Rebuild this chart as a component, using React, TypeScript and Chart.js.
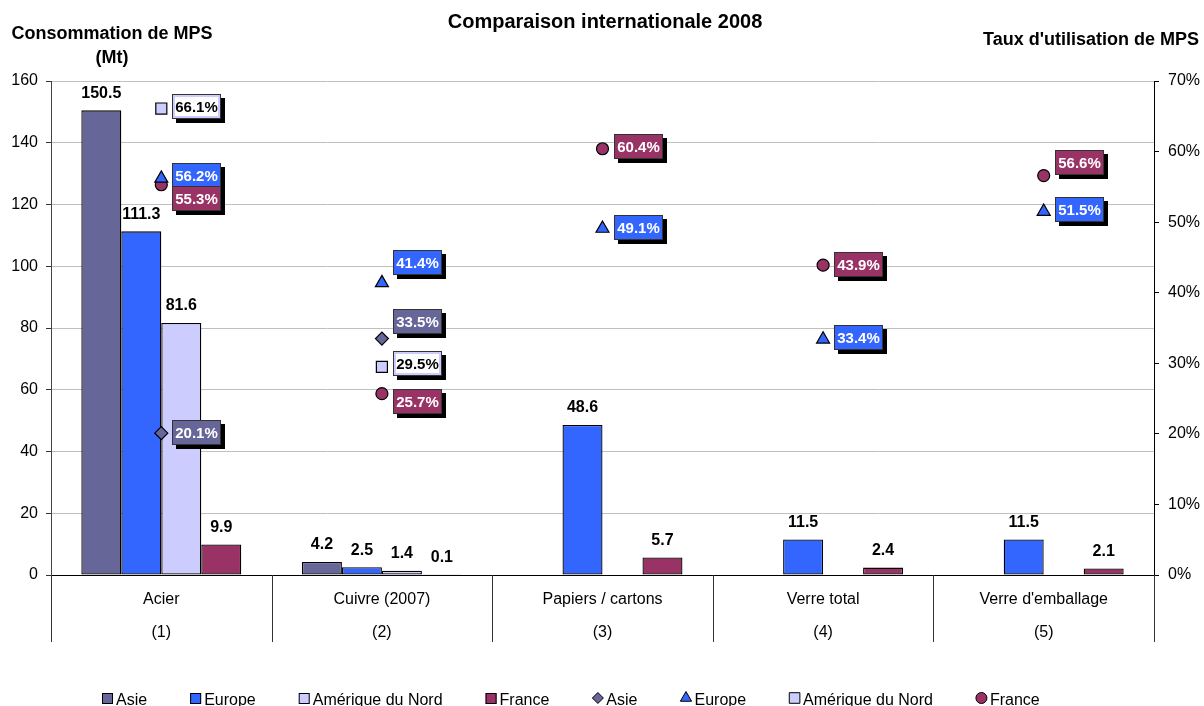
import React, { useEffect, useRef } from "react";
import { Chart, registerables } from "chart.js";

Chart.register(...registerables);

// ---------- data ----------
const categories = ["Acier", "Cuivre (2007)", "Papiers / cartons", "Verre total", "Verre d'emballage"];
const categoryNotes = ["(1)", "(2)", "(3)", "(4)", "(5)"];
const seriesNames = ["Asie", "Europe", "Amérique du Nord", "France"];

const consoAsie = [150.5, 4.2, null, null, null];
const consoEurope = [111.3, 2.5, 48.6, 11.5, 11.5];
const consoAmNord = [81.6, 1.4, null, null, null];
const consoFrance = [9.9, 0.1, 5.7, 2.4, 2.1];

const tauxAsie = [20.1, 33.5, null, null, null];
const tauxEurope = [56.2, 41.4, 49.1, 33.4, 51.5];
const tauxAmNord = [66.1, 29.5, null, null, null];
const tauxFrance = [55.3, 25.7, 60.4, 43.9, 56.6];

const leftMax = 160;
const leftStep = 20;
const rightMax = 70;
const rightStep = 10;

// ---------- style ----------
const FONT = "'Liberation Sans', Arial, sans-serif";
const colors = ["#666699", "#3366FF", "#CCCCFF", "#993366"];
const pointStyles = ["rectRot", "triangle", "rect", "circle"];
const pointRadii = [6.5, 7.5, 7.8, 6];
// label box vertical nudges (px), to mimic manual label placement
const labelShiftAsie = [-1, -17, 0, 0, 0];
const labelShiftEurope = [-3, -20, -1, -2, -2];
const labelShiftAmNord = [-2, -3, 0, 0, 0];
const labelShiftFrance = [14, 8, -2, -1, -13];
const labelShifts = [labelShiftAsie, labelShiftEurope, labelShiftAmNord, labelShiftFrance];

const consoSeries = [consoAsie, consoEurope, consoAmNord, consoFrance];
const tauxSeries = [tauxAsie, tauxEurope, tauxAmNord, tauxFrance];

function drawMarker(ctx: CanvasRenderingContext2D, style: string, x: number, y: number, r: number, fill: string) {
  ctx.save();
  ctx.fillStyle = fill;
  ctx.strokeStyle = "#000";
  ctx.lineWidth = 1;
  ctx.beginPath();
  if (style === "rectRot") {
    ctx.moveTo(x, y - r);
    ctx.lineTo(x + r, y);
    ctx.lineTo(x, y + r);
    ctx.lineTo(x - r, y);
    ctx.closePath();
  } else if (style === "triangle") {
    ctx.moveTo(x, y - r);
    ctx.lineTo(x + r * 0.866, y + r * 0.5);
    ctx.lineTo(x - r * 0.866, y + r * 0.5);
    ctx.closePath();
  } else if (style === "rect") {
    const s = r * Math.SQRT1_2;
    ctx.rect(x - s, y - s, 2 * s, 2 * s);
  } else {
    ctx.arc(x, y, r, 0, Math.PI * 2);
  }
  ctx.fill();
  ctx.stroke();
  ctx.restore();
}

const decorPlugin = {
  id: "decor",
  afterDatasetsDraw(chart: any) {
    const ctx: CanvasRenderingContext2D = chart.ctx;
    ctx.save();
    chart.data.datasets.forEach((ds: any, di: number) => {
      const meta = chart.getDatasetMeta(di);
      if (ds.kind === "bar") {
        ctx.font = `bold 16px ${FONT}`;
        ctx.fillStyle = "#000";
        ctx.textAlign = "center";
        ctx.textBaseline = "middle";
        meta.data.forEach((el: any, i: number) => {
          const v = ds.data[i];
          if (v === null || v === undefined) return;
          ctx.fillText(v.toFixed(1), el.x, el.y - 17);
        });
      }
    });
    chart.data.datasets.forEach((ds: any, di: number) => {
      const meta = chart.getDatasetMeta(di);
      if (ds.kind !== "point") return;
      ctx.font = `bold 15px ${FONT}`;
      meta.data.forEach((el: any, i: number) => {
        const v = ds.data[i];
        if (v === null || v === undefined) return;
        const txt = v.toFixed(1) + "%";
        const tw = ctx.measureText(txt).width;
        const w = Math.round(tw + 6);
        const h = 25;
        const x0 = Math.round(el.x + 11);
        const yc = el.y + ds.labelShift[i];
        const y0 = Math.round(yc - h / 2);
        ctx.fillStyle = "#000";
        ctx.fillRect(x0 + 4, y0 + 4, w, h);
        ctx.fillStyle = ds.boxColor;
        ctx.fillRect(x0, y0, w, h);
        if (ds.innerWhite) {
          ctx.fillStyle = "#fff";
          ctx.fillRect(x0 + 3, y0 + 3, w - 6, h - 6);
        }
        ctx.strokeStyle = "#333";
        ctx.lineWidth = 1;
        ctx.strokeRect(x0 + 0.5, y0 + 0.5, w - 1, h - 1);
        ctx.fillStyle = ds.textColor;
        ctx.textAlign = "center";
        ctx.textBaseline = "middle";
        ctx.fillText(txt, x0 + w / 2, y0 + h / 2 + 1);
      });
    });
    ctx.restore();
  },
  afterDraw(chart: any) {
    const ctx: CanvasRenderingContext2D = chart.ctx;
    const area = chart.chartArea;
    ctx.save();
    // titles
    ctx.fillStyle = "#000";
    ctx.textBaseline = "middle";
    ctx.textAlign = "center";
    ctx.font = `bold 20px ${FONT}`;
    ctx.fillText("Comparaison internationale 2008", 605, 22);
    ctx.font = `bold 18px ${FONT}`;
    ctx.fillText("Consommation de MPS", 112, 34);
    ctx.fillText("(Mt)", 112, 58);
    ctx.textAlign = "right";
    ctx.fillText("Taux d'utilisation de MPS", 1199, 40);

    // category separators
    const n = categories.length;
    const cw = (area.right - area.left) / n;
    ctx.strokeStyle = "#333";
    ctx.lineWidth = 1;
    for (let i = 0; i <= n; i++) {
      const x = Math.round(area.left + cw * i) + 0.5;
      ctx.beginPath();
      ctx.moveTo(x, area.bottom);
      ctx.lineTo(x, area.bottom + 67);
      ctx.stroke();
    }
    // category labels
    const xs = chart.scales.x;
    ctx.font = `16px ${FONT}`;
    ctx.textAlign = "center";
    ctx.fillStyle = "#000";
    for (let i = 0; i < n; i++) {
      const x = xs.getPixelForValue(i);
      ctx.fillText(categories[i], x, area.bottom + 25);
      ctx.fillText(categoryNotes[i], x, area.bottom + 58);
    }

    // legend
    ctx.font = `16px ${FONT}`;
    ctx.textAlign = "left";
    ctx.textBaseline = "alphabetic";
    let lx = 102;
    const ly = 705;
    const items: any[] = [];
    seriesNames.forEach((nm, i) => items.push({ kind: "bar", name: nm, i }));
    seriesNames.forEach((nm, i) => items.push({ kind: "point", name: nm, i }));
    items.forEach((it) => {
      if (it.kind === "bar") {
        ctx.fillStyle = colors[it.i];
        ctx.fillRect(lx, ly - 12, 11, 11);
        ctx.strokeStyle = "#000";
        ctx.lineWidth = 1;
        ctx.strokeRect(lx + 0.5, ly - 11.5, 10, 10);
      } else {
        const r = it.i === 2 ? 7.5 : it.i === 1 ? 6.5 : 5.5;
        drawMarker(ctx, pointStyles[it.i], lx + 5.5, ly - 7, r, colors[it.i]);
      }
      ctx.fillStyle = "#000";
      ctx.fillText(it.name, lx + 14, ly);
      lx += 14 + ctx.measureText(it.name).width + 43;
    });
    ctx.restore();
  },
};

export default function App() {
  const ref = useRef<HTMLCanvasElement>(null);
  useEffect(() => {
    document.body.style.margin = "0";
    Chart.defaults.font.family = FONT;
    Chart.defaults.color = "#000";
    const barSets = consoSeries.map((d, i) => ({
      type: "bar" as const,
      kind: "bar",
      label: seriesNames[i],
      data: d,
      backgroundColor: colors[i],
      borderColor: "#000",
      borderWidth: 1.3,
      borderSkipped: false,
      yAxisID: "y",
      order: 2,
      categoryPercentage: 0.725,
      barPercentage: 1,
    }));
    const pointSets = tauxSeries.map((d, i) => ({
      type: "line" as const,
      kind: "point",
      label: seriesNames[i],
      data: d,
      showLine: false,
      pointStyle: pointStyles[i],
      pointRadius: pointRadii[i],
      pointHoverRadius: pointRadii[i],
      pointBackgroundColor: colors[i],
      pointBorderColor: "#000",
      pointBorderWidth: 1.2,
      borderColor: colors[i],
      backgroundColor: colors[i],
      yAxisID: "y1",
      order: 1,
      labelShift: labelShifts[i],
      boxColor: colors[i],
      innerWhite: i === 2,
      textColor: i === 2 ? "#000" : "#fff",
    }));
    const chart = new Chart(ref.current as HTMLCanvasElement, {
      type: "bar",
      data: { labels: categories, datasets: [...barSets, ...pointSets] as any },
      options: {
        animation: false,
        responsive: true,
        maintainAspectRatio: false,
        layout: { padding: { top: 81, left: 0, right: 0, bottom: 0 } },
        plugins: { legend: { display: false }, tooltip: { enabled: false } },
        scales: {
          x: {
            type: "category",
            offset: true,
            grid: { display: false },
            ticks: { display: false },
            border: { display: true, color: "#000", width: 1 },
            afterFit: (s: any) => {
              s.height = 131;
            },
          },
          y: {
            position: "left",
            min: 0,
            max: leftMax,
            ticks: { stepSize: leftStep, font: { size: 16 }, color: "#000", padding: 8 },
            grid: { color: "#C0C0C0", tickColor: "#333", tickLength: 5 },
            border: { color: "#444", width: 1 },
            afterFit: (s: any) => {
              s.width = 51;
            },
          },
          y1: {
            position: "right",
            min: 0,
            max: rightMax,
            ticks: {
              stepSize: rightStep,
              font: { size: 16 },
              color: "#000",
              padding: 9,
              callback: (v: any) => `${v}%`,
            },
            grid: { drawOnChartArea: false, tickColor: "#000", tickLength: 5 },
            border: { color: "#000", width: 1 },
            afterFit: (s: any) => {
              s.width = 50;
            },
          },
        },
      } as any,
      plugins: [decorPlugin],
    });
    return () => chart.destroy();
  }, []);
  return (
    <div style={{ position: "absolute", left: 0, top: 0, width: 1204, height: 706, background: "#fff" }}>
      <canvas ref={ref} />
    </div>
  );
}
